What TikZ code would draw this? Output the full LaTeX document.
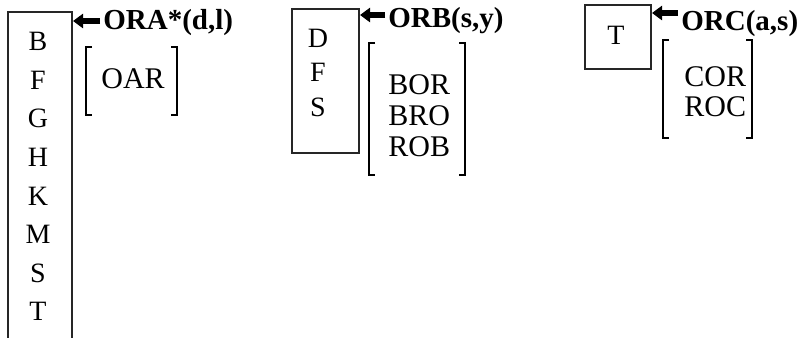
\documentclass[tikz,border=0pt]{standalone}
\usepackage{fontspec}
\setmainfont{Liberation Serif}
\usetikzlibrary{arrows.meta}

\tikzset{
  boxline/.style={line width=0.6pt, draw=black!85},
  brack/.style={line width=0.9pt},
  lbl/.style={font=\fontsize{14.5}{17}\selectfont\bfseries, anchor=west, inner sep=0pt},
  letter/.style={font=\fontsize{14}{15}\selectfont, inner sep=0pt},
  word/.style={font=\fontsize{15}{16}\selectfont, anchor=west, inner sep=0pt},
  pointer/.style={line width=2.8pt, -{Triangle[length=5pt,width=7pt]}}
}

\begin{document}
\begin{tikzpicture}[x=0.5pt, y=-0.5pt]
  \useasboundingbox (0,0) rectangle (800,338);

  % first group
  \draw[boxline] (8,338) -- (8,12) -- (72,12) -- (72,338);
  \foreach \ch [count=\i from 0] in {B,F,G,H,K,M,S,T}
    \node[letter] (a\ch) at (38,{41.5+38.6*\i}) {\ch};
  \coordinate (tipA) at (73,21);
  \node[lbl] (lblA) at (103,23) {ORA*(d,l)};
  \draw[pointer] ([xshift=-1.5pt]lblA.west |- tipA) -- (tipA);
  \draw[brack] (92,47) -- (86,47) -- (86,115) -- (92,115);
  \draw[brack] (171,47) -- (177,47) -- (177,115) -- (171,115);
  \node[word] (wOAR) at (101,79) {OAR};

  % second group
  \draw[boxline] (292,9) rectangle (359,153);
  \foreach \ch [count=\i from 0] in {D,F,S}
    \node[letter] (b\ch) at (318,{38+34.5*\i}) {\ch};
  \coordinate (tipB) at (360,15);
  \node[lbl] (lblB) at (388,21) {ORB(s,y)};
  \draw[pointer] ([xshift=-1.5pt]lblB.west |- tipB) -- (tipB);
  \draw[brack] (375,43) -- (369,43) -- (369,175) -- (375,175);
  \draw[brack] (459,43) -- (465,43) -- (465,175) -- (459,175);
  \foreach \w [count=\i from 0] in {BOR,BRO,ROB}
    \node[word] (w\w) at (388,{85+31*\i}) {\w};

  % third group
  \draw[boxline] (585,5) rectangle (651,69);
  \node[letter] (cT) at (616,35) {T};
  \coordinate (tipC) at (652,13);
  \node[lbl] (lblC) at (681,24) {ORC(a,s)};
  \draw[pointer] ([xshift=-1.5pt]lblC.west |- tipC) -- (tipC);
  \draw[brack] (669,40) -- (663,40) -- (663,138) -- (669,138);
  \draw[brack] (746,40) -- (752,40) -- (752,138) -- (746,138);
  \foreach \w [count=\i from 0] in {COR,ROC}
    \node[word] (w\w) at (684,{77+30*\i}) {\w};
\end{tikzpicture}
\end{document}
